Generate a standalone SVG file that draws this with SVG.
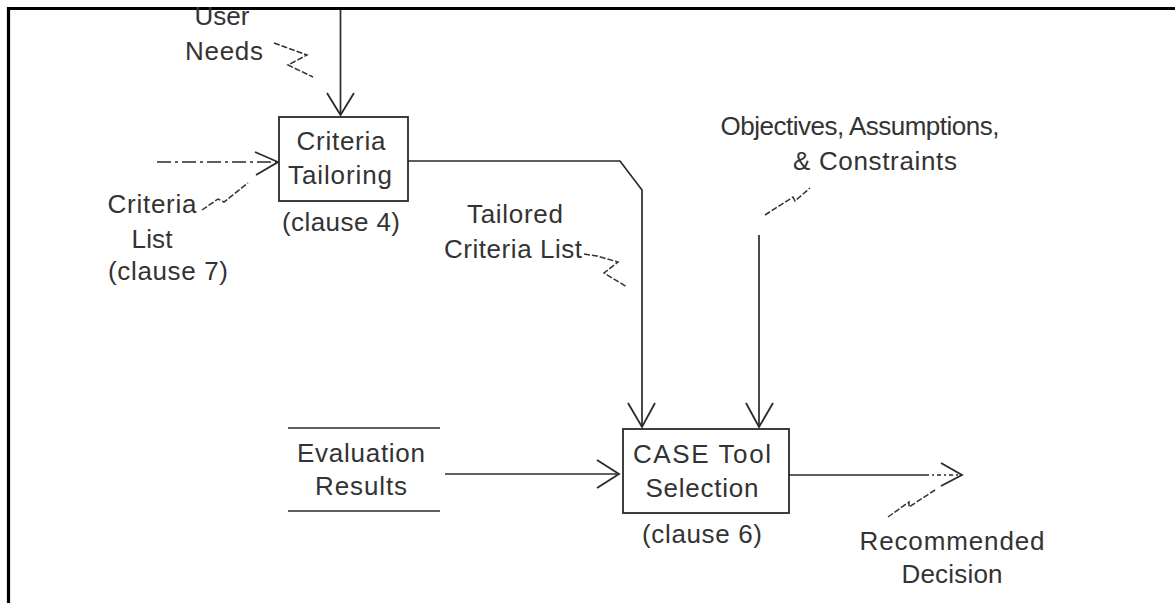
<svg xmlns="http://www.w3.org/2000/svg" width="1175" height="603" viewBox="0 0 1175 603">
<style>
.t{font-family:"Liberation Sans",Arial,sans-serif;font-size:26px;fill:#333;text-anchor:middle}
.box{fill:none;stroke:#2a2a2a;stroke-width:1.8}
.ln{fill:none;stroke:#2a2a2a;stroke-width:1.7}
.ah{fill:none;stroke:#2a2a2a;stroke-width:1.8;stroke-linejoin:miter}
.dd{fill:none;stroke:#2a2a2a;stroke-width:1.7;stroke-dasharray:14 4 3 4}
.sq{fill:none;stroke:#333;stroke-width:1.5;stroke-dasharray:6 2}
</style>
<rect width="1175" height="603" fill="#fff"/>
<path d="M8.5,603 V8.5 H1175" fill="none" stroke="#000" stroke-width="3.2"/>

<g id="criteria-tailoring">
<rect class="box" x="279" y="117" width="129" height="84"/>
<text class="t" x="341" y="150" textLength="89">Criteria</text>
<text class="t" x="340" y="184" textLength="104">Tailoring</text>
<text class="t" x="341" y="231" textLength="118">(clause 4)</text>
</g>

<g id="case-tool-selection">
<rect class="box" x="623" y="429" width="166" height="84"/>
<text class="t" x="702" y="463" textLength="138">CASE Tool</text>
<text class="t" x="702" y="497" textLength="113">Selection</text>
<text class="t" x="702" y="543" textLength="120">(clause 6)</text>
</g>

<g id="evaluation-results">
<line class="ln" x1="288" y1="428" x2="440" y2="428"/>
<line class="ln" x1="288" y1="511" x2="440" y2="511"/>
<text class="t" x="361" y="462" textLength="128">Evaluation</text>
<text class="t" x="361" y="495" textLength="92">Results</text>
</g>

<g id="user-needs">
<text class="t" x="222" y="25" textLength="55">User</text>
<text class="t" x="224" y="60" textLength="78">Needs</text>
<path class="sq" d="M274,43 L307,55 L288,65 L313,77"/>
</g>

<g id="criteria-list">
<text class="t" x="152" y="213" textLength="89">Criteria</text>
<text class="t" x="152" y="248" textLength="41">List</text>
<text class="t" x="168" y="280" textLength="120">(clause 7)</text>
<path class="sq" d="M202,210 L218,199 L224,202 L248,183"/>
</g>

<g id="tailored-criteria-list">
<text class="t" x="515" y="223" textLength="96">Tailored</text>
<text class="t" x="513" y="258" textLength="138">Criteria List</text>
<path class="sq" d="M584,254 L597,256 L618,262 L604,273 L627,287"/>
</g>

<g id="objectives">
<text class="t" x="860" y="135" textLength="279">Objectives, Assumptions,</text>
<text class="t" x="875" y="170" textLength="164">&amp; Constraints</text>
<path class="sq" d="M765,215 L793,197 L795,201 L810,188"/>
</g>

<g id="recommended-decision">
<text class="t" x="952" y="550" textLength="185">Recommended</text>
<text class="t" x="952" y="583" textLength="101">Decision</text>
<path class="sq" d="M888,517 L909,502 L909,507 L935,490"/>
</g>

<g id="connectors">
<line class="ln" x1="340.5" y1="10" x2="340.5" y2="114"/>
<path class="ah" d="M327,93 L340.5,115 L354,93"/>

<line class="dd" x1="157" y1="162" x2="276" y2="162"/>
<path class="ah" d="M255,152 L278,162 L256,175"/>

<path class="ln" d="M408,161 H620 L642,190 V425"/>
<path class="ah" d="M628,403 L642,427 L655,403"/>

<line class="ln" x1="759" y1="235" x2="759" y2="425"/>
<path class="ah" d="M746,403 L759,427 L773,403"/>

<line class="ln" x1="445" y1="474" x2="617" y2="474"/>
<path class="ah" d="M597,460 L619,474 L597,488"/>

<line class="ln" x1="789" y1="475" x2="925" y2="475"/>
<line class="dd" x1="925" y1="475" x2="960" y2="475" style="stroke-dasharray:4 3 2 3"/>
<path class="ah" d="M941,463 L962,475 L941,486"/>
</g>
</svg>
